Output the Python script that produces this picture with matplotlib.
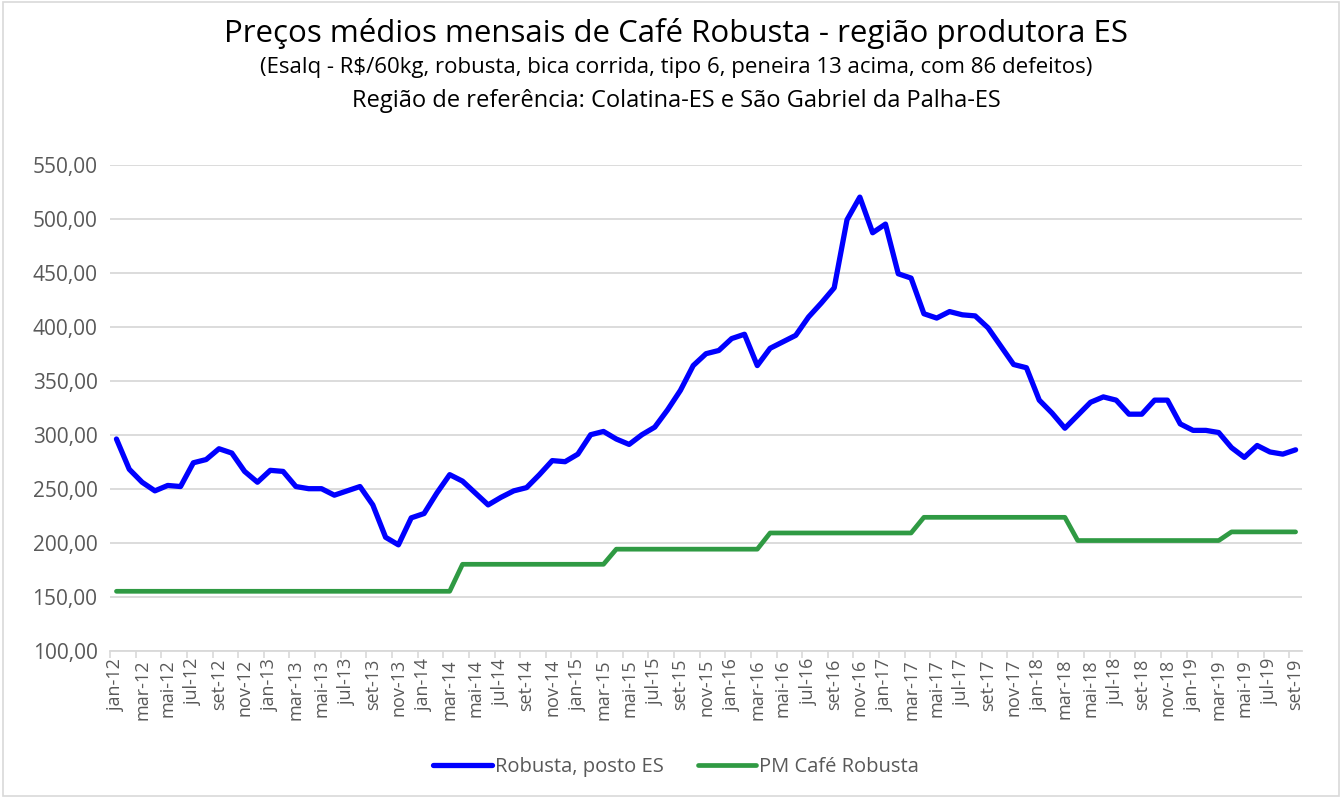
import numpy as np
import matplotlib.pyplot as plt
from matplotlib.patches import Rectangle

plt.rcParams['font.family'] = ['Open Sans', 'DejaVu Sans']

meses = ['jan', 'fev', 'mar', 'abr', 'mai', 'jun', 'jul', 'ago', 'set', 'out', 'nov', 'dez']
datas = [m + '-' + str(a) for a in range(12, 20) for m in meses][:93]  # jan-12 .. set-19

# Robusta, posto ES (R$/60kg)
robusta = [296, 268, 256, 248, 253, 252, 274, 277, 287, 283, 266, 256,
           267, 266, 252, 250, 250, 244, 248, 252, 235, 205, 198, 223,
           227, 246, 263, 257, 246, 235, 242, 248, 251, 263, 276, 275,
           282, 300, 303, 296, 291, 300, 307, 323, 341, 364, 375, 378,
           389, 393, 364, 380, 386, 392, 409, 422, 436, 499, 520, 487,
           495, 449, 445, 412, 408, 414, 411, 410, 399, 382, 365, 362,
           332, 320, 306, 318, 330, 335, 332, 319, 319, 332, 332, 310,
           304, 304, 302, 288, 279, 290, 284, 282, 286]

# PM Cafe Robusta (preco minimo)
pm = [155] * 27 + [180] * 12 + [194] * 12 + [209] * 12 + [223.5] * 12 + [202] * 12 + [210] * 6

x = np.arange(len(datas))

fig = plt.figure(figsize=(13.42, 7.98), dpi=100)
ax = fig.add_axes([0.0820, 0.1846, 0.8882, 0.6090])

ax.plot(x, robusta, color='#0000ff', lw=3.8, solid_joinstyle='round', solid_capstyle='round', label='Robusta, posto ES')
ax.plot(x, pm, color='#2f9a43', lw=3.4, solid_joinstyle='round', solid_capstyle='round', label='PM Café Robusta')

ax.set_xlim(-0.5, len(datas) - 0.5)
ax.set_ylim(100, 550)
ax.set_yticks(np.arange(100, 551, 50))
ax.set_yticklabels(['%d,00' % v for v in range(100, 551, 50)])
ax.grid(axis='y', color='#d9d9d9', lw=1.3)
ax.set_axisbelow(True)

ax.set_xticks(x[::2])
ax.set_xticklabels(datas[::2], rotation=90)
ax.set_xticks(np.arange(-0.5, len(datas), 2), minor=True)
ax.tick_params(axis='x', which='major', length=0, pad=6, labelsize=13, colors='#595959')
ax.tick_params(axis='x', which='minor', length=5, width=1.2, color='#d9d9d9')
ax.tick_params(axis='y', length=0, pad=9, labelsize=15, colors='#595959')

for s in ['top', 'right', 'left']:
    ax.spines[s].set_visible(False)
ax.spines['bottom'].set_color('#d9d9d9')
ax.spines['bottom'].set_linewidth(1.3)

fig.text(0.504, 0.958, 'Preços médios mensais de Café Robusta - região produtora ES',
         ha='center', va='center', fontsize=22.5, color='black')
fig.text(0.504, 0.915, '(Esalq - R$/60kg, robusta, bica corrida, tipo 6, peneira 13 acima, com 86 defeitos)',
         ha='center', va='center', fontsize=16, color='black')
fig.text(0.504, 0.874, 'Região de referência: Colatina-ES e São Gabriel da Palha-ES',
         ha='center', va='center', fontsize=17, color='black')

fig.legend(loc='center', bbox_to_anchor=(0.504, 0.039), ncol=2, frameon=False,
           fontsize=14.5, handlelength=2.9, handletextpad=0.15, columnspacing=1.7,
           labelcolor='#595959')

fig.add_artist(Rectangle((0.002, 0.003), 0.996, 0.994, transform=fig.transFigure,
                         fill=False, edgecolor='#d9d9d9', lw=1.2))

fig.savefig('out.png', dpi=100)
